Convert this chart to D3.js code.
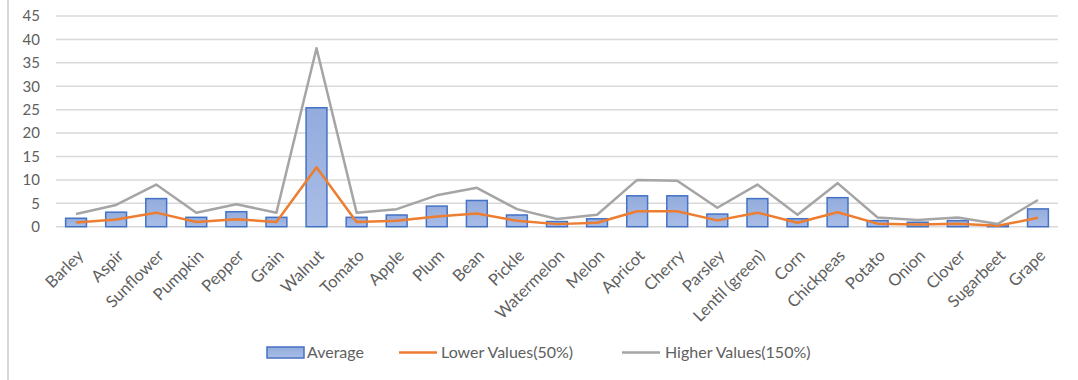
<!DOCTYPE html>
<html>
<head>
<meta charset="utf-8">
<script src="https://cdn.jsdelivr.net/npm/d3@7"></script>
<style>
  html, body { margin: 0; padding: 0; background: #fff; }
  svg { display: block; font-family: Lato, "Open Sans", sans-serif; }
</style>
</head>
<body>
<svg id="chart" width="1078" height="380"></svg>
<script>
// Crop values
const categories = ["Barley", "Aspir", "Sunflower", "Pumpkin", "Pepper", "Grain", "Walnut", "Tomato",
  "Apple", "Plum", "Bean", "Pickle", "Watermelon", "Melon", "Apricot", "Cherry", "Parsley",
  "Lentil (green)", "Corn", "Chickpeas", "Potato", "Onion", "Clover", "Sugarbeet", "Grape"];
const average = [1.8, 3.1, 6.0, 2.0, 3.2, 2.0, 25.4, 2.0, 2.5, 4.4, 5.6, 2.5, 1.1, 1.7, 6.6, 6.6, 2.7,
  6.0, 1.7, 6.2, 1.3, 0.95, 1.3, 0.4, 3.8];
const lowerValues = [0.9, 1.55, 3.0, 1.0, 1.6, 1.0, 12.7, 1.0, 1.25, 2.2, 2.8, 1.25, 0.55, 0.85, 3.3, 3.3,
  1.35, 3.0, 0.85, 3.1, 0.65, 0.48, 0.65, 0.2, 1.9];
const higherValues = [2.7, 4.65, 9.0, 3.0, 4.8, 3.0, 38.1, 3.0, 3.75, 6.7, 8.3, 3.75, 1.65, 2.55, 10.0, 9.8,
  4.05, 9.0, 2.55, 9.3, 1.95, 1.43, 1.95, 0.6, 5.7];
const yTicks = [0, 5, 10, 15, 20, 25, 30, 35, 40, 45];
const seriesNames = ["Average", "Lower Values(50%)", "Higher Values(150%)"];

const svg = d3.select("#chart");
const plot = { left: 56, right: 1058, top: 16, bottom: 226.7 };
const textColor = "#606060";

// Outer frame edge on the left
svg.append("line")
  .attr("x1", 8).attr("x2", 8).attr("y1", 0).attr("y2", 380)
  .attr("stroke", "#d9d9d9").attr("stroke-width", 2);

const x = d3.scaleBand().domain(categories).range([plot.left, plot.right]).paddingInner(0.48).paddingOuter(0.24);
const xc = d3.scalePoint().domain(categories).range([plot.left, plot.right]).padding(0.5);
const y = d3.scaleLinear().domain([0, 45]).range([plot.bottom, plot.top]);

// Gridlines
svg.append("g").selectAll("line").data(yTicks).join("line")
  .attr("x1", plot.left).attr("x2", plot.right)
  .attr("y1", d => y(d)).attr("y2", d => y(d))
  .attr("stroke", "#d9d9d9").attr("stroke-width", 1.5);

// Y axis labels
const yAxis = svg.append("g")
  .attr("transform", `translate(${plot.left - 16},0)`)
  .call(d3.axisLeft(y).tickValues(yTicks).tickSize(0).tickPadding(0));
yAxis.select(".domain").remove();
yAxis.selectAll("text").attr("fill", textColor).attr("font-size", 15).attr("font-family", "Lato, sans-serif");

// Bar gradient
const defs = svg.append("defs");
const grad = defs.append("linearGradient").attr("id", "barFill").attr("x1", 0).attr("y1", 0).attr("x2", 0).attr("y2", 1);
grad.append("stop").attr("offset", "0%").attr("stop-color", "#93ACDD");
grad.append("stop").attr("offset", "100%").attr("stop-color", "#A9BDE6");

// Bars
svg.append("g").selectAll("rect").data(categories).join("rect")
  .attr("x", d => x(d))
  .attr("y", (d, i) => y(average[i]))
  .attr("width", x.bandwidth())
  .attr("height", (d, i) => y(0) - y(average[i]))
  .attr("fill", "url(#barFill)")
  .attr("stroke", "#4472C4").attr("stroke-width", 1.5);

// Lines
const line = d3.line().x((d, i) => xc(categories[i])).y(d => y(d));
svg.append("path").datum(lowerValues).attr("d", line)
  .attr("fill", "none").attr("stroke", "#ED7D31").attr("stroke-width", 2.5).attr("stroke-linejoin", "round");
svg.append("path").datum(higherValues).attr("d", line)
  .attr("fill", "none").attr("stroke", "#A5A5A5").attr("stroke-width", 2.5).attr("stroke-linejoin", "round");

// X axis labels, rotated
const xAxis = svg.append("g")
  .attr("transform", `translate(0,${plot.bottom})`)
  .call(d3.axisBottom(xc).tickSize(0).tickPadding(0));
xAxis.select(".domain").remove();
xAxis.selectAll("text")
  .attr("fill", textColor).attr("font-size", 16.5).attr("font-family", "Lato, sans-serif")
  .attr("text-anchor", "end")
  .attr("dy", null)
  .attr("transform", "translate(8,30) rotate(-45)");

// Legend
const legend = svg.append("g");
const ly = 352.5;
legend.append("rect").attr("x", 267).attr("y", ly - 5.5).attr("width", 37).attr("height", 11)
  .attr("fill", "url(#barFill)").attr("stroke", "#4472C4").attr("stroke-width", 1.5);
legend.append("line").attr("x1", 399).attr("x2", 437).attr("y1", ly).attr("y2", ly)
  .attr("stroke", "#ED7D31").attr("stroke-width", 2.5);
legend.append("line").attr("x1", 622).attr("x2", 660).attr("y1", ly).attr("y2", ly)
  .attr("stroke", "#A5A5A5").attr("stroke-width", 2.5);
const legendX = [307, 441, 665];
legend.selectAll("text").data(seriesNames).join("text")
  .attr("x", (d, i) => legendX[i]).attr("y", ly).attr("dy", "0.35em")
  .attr("fill", textColor).attr("font-size", 16).attr("font-family", "Lato, sans-serif")
  .text(d => d);
</script>
</body>
</html>
